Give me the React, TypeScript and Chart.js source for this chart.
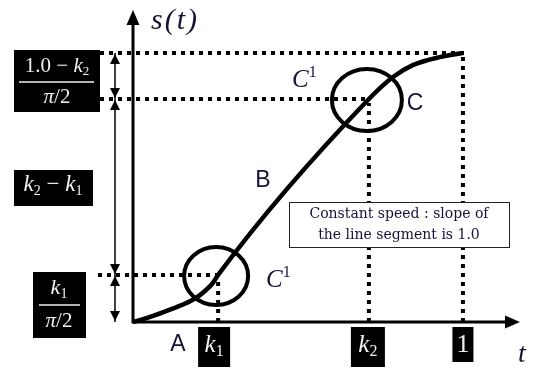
import React, { useEffect, useRef } from "react";
import { Chart, registerables } from "chart.js";

Chart.register(...registerables);

// Curve s(t) (t, s in normalized units)
const curveT = [0, 0.052, 0.112, 0.173, 0.203, 0.242, 0.258, 0.715, 0.788, 0.848, 0.93, 1.0];
const curveS = [0, 0.019, 0.046, 0.077, 0.1, 0.145, 0.175, 0.829, 0.911, 0.955, 0.985, 1.0];
// knots on t axis: k1, k2, 1
const knotT = [0.258, 0.715, 1.0];
// s levels at those knots
const knotS = [0.175, 0.829, 1.0];
const xTickLabels = ["k1", "k2", "1"];
const segmentLabels = ["A", "B", "C"];
const boxText = ["Constant speed : slope of", "the line segment is 1.0"];

const SERIF = '"Liberation Serif", "DejaVu Serif", serif';
const WIDESERIF = '"DejaVu Serif", serif';
const SANS = '"Liberation Sans", Arial, sans-serif';
const TXT = "#14143a";

type Part = { t: string; it?: boolean; sub?: boolean };

function drawRich(ctx: CanvasRenderingContext2D, parts: Part[], cx: number, cy: number, size: number, color: string) {
  const fontFor = (p: Part) => `${p.it ? "italic " : ""}${p.sub ? Math.round(size * 0.62) : size}px ${SERIF}`;
  let w = 0;
  parts.forEach((p) => {
    ctx.font = fontFor(p);
    w += ctx.measureText(p.t).width;
  });
  let x = cx - w / 2;
  ctx.fillStyle = color;
  ctx.textBaseline = "middle";
  ctx.textAlign = "left";
  parts.forEach((p) => {
    ctx.font = fontFor(p);
    ctx.fillText(p.t, x, p.sub ? cy + size * 0.28 : cy);
    x += ctx.measureText(p.t).width;
  });
}

function arrowHead(ctx: CanvasRenderingContext2D, tx: number, ty: number, dx: number, dy: number, len: number, hw: number) {
  const bx = tx - dx * len;
  const by = ty - dy * len;
  ctx.beginPath();
  ctx.moveTo(tx, ty);
  ctx.lineTo(bx - dy * hw, by + dx * hw);
  ctx.lineTo(bx + dy * hw, by - dx * hw);
  ctx.closePath();
  ctx.fill();
}

function subParts(label: string): Part[] {
  if (label.startsWith("k")) return [{ t: "k", it: true }, { t: label.slice(1), sub: true }];
  return [{ t: label }];
}

const diagramPlugin = {
  id: "diagram",
  beforeDatasetsDraw(chart: any) {
    const ctx: CanvasRenderingContext2D = chart.ctx;
    const xs = chart.scales.x;
    const ys = chart.scales.y;
    const x0 = xs.getPixelForValue(0);
    const y0 = ys.getPixelForValue(0);
    ctx.save();
    // dotted guide lines
    ctx.strokeStyle = "#000";
    ctx.lineWidth = 4;
    ctx.setLineDash([4, 5]);
    const hStarts = [98, 100, 100];
    knotT.forEach((t, i) => {
      const px = xs.getPixelForValue(t);
      const py = ys.getPixelForValue(knotS[i]);
      ctx.beginPath();
      ctx.moveTo(hStarts[i], py);
      ctx.lineTo(px + (i === 2 ? 4 : 0), py);
      ctx.stroke();
      ctx.beginPath();
      ctx.moveTo(px, y0);
      ctx.lineTo(px, py + 4);
      ctx.stroke();
    });
    ctx.setLineDash([]);
    // axes
    ctx.fillStyle = "#000";
    ctx.lineWidth = 3;
    const xEnd = chart.chartArea.right;
    const yEnd = chart.chartArea.top;
    ctx.beginPath();
    ctx.moveTo(x0, y0 + 1.5);
    ctx.lineTo(x0, yEnd + 10);
    ctx.moveTo(x0 - 1.5, y0);
    ctx.lineTo(xEnd - 10, y0);
    ctx.stroke();
    arrowHead(ctx, x0, yEnd, 0, -1, 15, 6.5);
    arrowHead(ctx, xEnd, y0, 1, 0, 15, 6.5);
    // dimension arrows
    const ax = 115;
    const levelsPx = [y0, ...knotS.map((s) => ys.getPixelForValue(s))];
    ctx.lineWidth = 1.5;
    ctx.beginPath();
    ctx.moveTo(ax, levelsPx[0]);
    ctx.lineTo(ax, levelsPx[levelsPx.length - 1]);
    ctx.stroke();
    for (let i = 0; i < levelsPx.length - 1; i++) {
      const lo = levelsPx[i];
      const hi = levelsPx[i + 1];
      arrowHead(ctx, ax, lo - 1, 0, 1, 10, 5);
      arrowHead(ctx, ax, hi + 1, 0, -1, 10, 5);
    }
    ctx.restore();
  },
  afterDatasetsDraw(chart: any) {
    const ctx: CanvasRenderingContext2D = chart.ctx;
    const xs = chart.scales.x;
    const ys = chart.scales.y;
    ctx.save();
    // circles at C1 joints
    ctx.strokeStyle = "#000";
    ctx.lineWidth = 4;
    const radii = [
      [32, 29],
      [35, 31],
    ];
    for (let i = 0; i < 2; i++) {
      const cx = xs.getPixelForValue(knotT[i]) - 2;
      const cy = ys.getPixelForValue(knotS[i]) + 1;
      ctx.beginPath();
      ctx.ellipse(cx, cy, radii[i][0], radii[i][1], 0, 0, Math.PI * 2);
      ctx.stroke();
    }
    // black label boxes
    ctx.fillStyle = "#000";
    const white = "#f2f2f2";
    // (1.0 - k2)/(pi/2)
    ctx.fillRect(14, 50, 86, 62);
    drawRich(ctx, [{ t: "1.0 − " }, { t: "k", it: true }, { t: "2", sub: true }], 57, 66, 21, white);
    ctx.strokeStyle = white;
    ctx.lineWidth = 1.5;
    ctx.beginPath();
    ctx.moveTo(19, 82);
    ctx.lineTo(94, 82);
    ctx.stroke();
    drawRich(ctx, [{ t: "π", it: true }, { t: "/2" }], 57, 97, 21, white);
    // k2 - k1
    ctx.fillStyle = "#000";
    ctx.fillRect(14, 170, 79, 36);
    drawRich(ctx, [{ t: "k", it: true }, { t: "2", sub: true }, { t: " − " }, { t: "k", it: true }, { t: "1", sub: true }], 53, 185, 23, white);
    // k1/(pi/2)
    ctx.fillStyle = "#000";
    ctx.fillRect(33, 272, 53, 66);
    drawRich(ctx, [{ t: "k", it: true }, { t: "1", sub: true }], 59, 288, 22, white);
    ctx.beginPath();
    ctx.moveTo(39, 305);
    ctx.lineTo(80, 305);
    ctx.stroke();
    drawRich(ctx, [{ t: "π", it: true }, { t: "/2" }], 59, 321, 21, white);
    // tick label boxes
    const tickBoxes = [
      [32, 40],
      [34, 40],
      [21, 35],
    ];
    knotT.forEach((t, i) => {
      const px = xs.getPixelForValue(t) + (i === 0 ? -4 : i === 1 ? -1 : 0);
      const [w, h] = tickBoxes[i];
      ctx.fillStyle = "#000";
      ctx.fillRect(px - w / 2, 327, w, h);
      drawRich(ctx, subParts(xTickLabels[i]), px, 345, i === 2 ? 26 : 25, white);
    });
    // axis titles
    ctx.fillStyle = TXT;
    ctx.textBaseline = "alphabetic";
    ctx.textAlign = "left";
    (ctx as any).letterSpacing = "2px";
    ctx.font = `italic 30px ${SERIF}`;
    ctx.fillText("s(t)", 151, 29);
    (ctx as any).letterSpacing = "0px";
    ctx.font = `italic 28px ${SERIF}`;
    ctx.fillText("t", 518, 362);
    // segment letters
    ctx.font = `23px ${SANS}`;
    ctx.textAlign = "center";
    ctx.textBaseline = "middle";
    ctx.fillText(segmentLabels[0], 178, 345);
    ctx.fillText(segmentLabels[1], 263, 181);
    ctx.fillText(segmentLabels[2], 415, 104);
    // C^1 labels
    const c1Pos = [
      [266, 280],
      [292, 80],
    ];
    c1Pos.forEach(([x, y]) => {
      ctx.textAlign = "left";
      ctx.font = `italic 25px ${SERIF}`;
      ctx.fillText("C", x, y);
      const w = ctx.measureText("C").width;
      ctx.font = `16px ${SERIF}`;
      ctx.fillText("1", x + w, y - 7);
    });
    // annotation box
    ctx.fillStyle = "#fff";
    ctx.fillRect(289, 202, 220, 45);
    ctx.strokeStyle = "#222";
    ctx.lineWidth = 1;
    ctx.strokeRect(289.5, 202.5, 220, 45);
    ctx.fillStyle = TXT;
    ctx.font = `14px ${WIDESERIF}`;
    ctx.textAlign = "center";
    ctx.fillText(boxText[0], 399, 214);
    ctx.fillText(boxText[1], 399, 235);
    ctx.restore();
  },
};

export default function App() {
  const ref = useRef<HTMLCanvasElement>(null);
  useEffect(() => {
    if (!ref.current) return;
    const chart = new Chart(ref.current, {
      type: "line",
      data: {
        datasets: [
          {
            data: curveT.map((t, i) => ({ x: t, y: curveS[i] })),
            borderColor: "#000",
            borderWidth: 4.5,
            pointRadius: 0,
            cubicInterpolationMode: "monotone",
            clip: false as any,
          },
        ],
      },
      options: {
        responsive: false,
        animation: false,
        layout: { padding: { left: 133, right: 14, top: 10, bottom: 48 } },
        plugins: { legend: { display: false }, tooltip: { enabled: false } },
        scales: {
          x: { type: "linear", min: 0, max: 1.173, display: false },
          y: { type: "linear", min: 0, max: 1.16, display: false },
        },
      },
      plugins: [diagramPlugin],
    });
    return () => chart.destroy();
  }, []);
  return (
    <div style={{ position: "fixed", left: 0, top: 0, width: 534, height: 370, background: "#fff" }}>
      <canvas ref={ref} width={534} height={370} />
    </div>
  );
}
